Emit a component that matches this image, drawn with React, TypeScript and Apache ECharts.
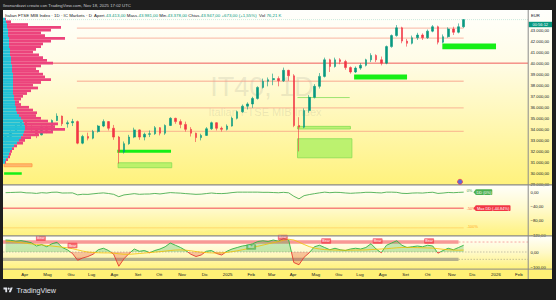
import React, { useEffect, useRef } from 'react';
import * as echarts from 'echarts';

// ---------------- data ----------------
const firstWeek = '2024-03-04';
const weekCount = 102; // incl. empty future weeks up to Feb 2026

const monthStarts = [
  '2024-04-01', '2024-05-02', '2024-06-03', '2024-07-01', '2024-08-01', '2024-09-02', '2024-10-01', '2024-11-01',
  '2024-12-02', '2025-01-02', '2025-02-03', '2025-03-03', '2025-04-01', '2025-05-02', '2025-06-02', '2025-07-01',
  '2025-08-01', '2025-09-01', '2025-10-01', '2025-11-03', '2025-12-01', '2026-01-02', '2026-02-02',
];
const monthLabels = [
  'Apr', 'Mag', 'Giu', 'Lug', 'Ago', 'Set', 'Ott', 'Nov',
  'Dic', '2025', 'Feb', 'Mar', 'Apr', 'Mag', 'Giu', 'Lug',
  'Ago', 'Set', 'Ott', 'Nov', 'Dic', '2026', 'Feb',
];

const firstOpen = 33050;
const weeklyClose = [
  33350, 33800, 34350, 34750, 34050, 33950, 33500, 34250, 33900, 34800,
  35200, 34500, 34600, 34700, 32750, 33350, 33200, 33800, 34300, 34700,
  34100, 33300, 31950, 32700, 33300, 33950, 33300, 33550, 33600, 34150,
  33650, 34350, 35000, 34700, 34450, 34000, 33650, 33250, 33450, 34050,
  34600, 34100, 34000, 34300, 35000, 35600, 36100, 36300, 36800, 37800,
  38350, 38500, 38600, 38400, 39350, 38850, 34350, 34200, 35700, 36900,
  37900, 38800, 40300, 39700, 40300, 40150, 39600, 39200, 39550, 39800,
  40300, 40700, 40300, 40000, 41500, 42500, 43200, 42000, 41800, 42300,
  42550, 42300, 42900, 43300, 41900, 42400, 43100, 42800, 43300, 43947,
];
const weeklyHigh = [
  33500, 33950, 34450, 34800, 34800, 34400, 34000, 34350, 34350, 34900,
  35450, 35250, 34800, 34950, 34800, 33500, 33700, 33950, 34400, 34900,
  34750, 34400, 33400, 32900, 33500, 34150, 34000, 33700, 33900, 34300,
  34200, 34450, 35100, 35050, 34900, 34700, 34200, 33700, 33600, 34200,
  34700, 34650, 34250, 34450, 35150, 35700, 36250, 36450, 36950, 37900,
  38600, 38700, 39050, 38800, 39600, 39400, 39000, 35100, 35900, 37100,
  38100, 39100, 40500, 40400, 40500, 40450, 40300, 39700, 39700, 40000,
  40400, 40900, 40800, 40600, 41600, 42600, 43450, 43300, 42200, 42500,
  42750, 42700, 43050, 43450, 43400, 42600, 43250, 43300, 43600, 43981,
];
const weeklyLow = [
  32900, 33250, 33700, 34250, 33950, 33700, 33200, 33450, 33650, 33850,
  34750, 34300, 34150, 34300, 32650, 32650, 33000, 33100, 33700, 34200,
  33900, 33050, 30900, 31800, 32600, 33200, 33050, 33000, 33300, 33500,
  33450, 33500, 34300, 34500, 34100, 33800, 33350, 32850, 33000, 33400,
  33950, 33900, 33800, 33900, 34250, 34900, 35500, 35800, 35950, 36700,
  37700, 37900, 38000, 37900, 38300, 38400, 34200, 32000, 34100, 35500,
  36800, 37700, 38700, 39200, 39600, 39900, 39400, 39050, 39100, 39400,
  39700, 40100, 40100, 39800, 39900, 41400, 42400, 41800, 41500, 41700,
  42100, 42100, 42200, 42800, 41700, 41800, 42300, 42550, 42700, 43200,
];

const drawdownPct = [
  -1.5, -1, -0.5, 0, -2, -2.3, -3.6, -1.5, -2.5, -0.4,
  0, -2.5, -2.3, -2.1, -7.6, -5.9, -6.3, -4.7, -3.2, -2.1,
  -3.8, -6.1, -12.8, -7.8, -6.1, -4.2, -6.1, -5.4, -5.2, -3.7,
  -5.1, -3.1, -1.3, -2.1, -2.8, -4.1, -5.1, -6.2, -5.6, -4,
  -2.4, -3.8, -4.1, -3.2, -1.3, 0, 0, 0, 0, 0,
  -0.6, -0.5, -1.1, -1.7, -0.6, -1.9, -11.5, -18.8, -9.8, -6.8,
  -4.3, -2, 0, -1.5, -0.5, -0.9, -2.3, -3.3, -2.4, -1.7,
  -0.5, -0.5, -1.5, -2.2, 0, 0, -0.6, -3.3, -3.8, -2.6,
  -2.1, -2.6, -1.2, -0.3, -3.6, -2.5, -0.9, -1.6, -0.7, 0,
];

const oscValues = [
  80, 78, 72, 76, 70, 62, 40, 50, 35, 55,
  65, 30, 15, -10, -55, -40, -30, -15, 15, 25,
  10, -15, -95, -45, -10, 20, 5, 10, -5, 10,
  20, 35, 60, 45, 30, 10, -15, -30, -20, 5,
  10, -10, -20, 5, 20, 30, 40, 45, 55, 70,
  75, 70, 80, 72, 90, 80, -70, -85, -35, -5,
  35, 45, 30, 15, 25, 15, 10, 20, 25, 20,
  30, 55, 20, -5, 45, 60, 75, 45, 30, 35,
  40, 35, 45, 40, -8, 10, 25, 15, 30, 45,
];
const oscSignal = [
  73, 70, 66, 62, 58, 54, 50, 47, 44, 40,
  36, 32, 28, 22, 14, 6, 0, -3, -5, -6,
  -6, -8, -12, -15, -15, -13, -10, -7, -4, -1,
  2, 6, 10, 13, 14, 12, 8, 3, -1, -4,
  -6, -7, -6, -3, 2, 8, 15, 22, 30, 38,
  46, 54, 62, 70, 78, 85, 80, 66, 50, 36,
  26, 20, 16, 14, 13, 12, 12, 12, 13, 13,
  14, 16, 18, 20, 22, 25, 28, 30, 31, 30,
  29, 28, 27, 26, 22, 18, 15, 13, 12, 13,
];

const profilePrices = [
  44000, 43750, 43500, 43250, 43000, 42750, 42500, 42250, 42000, 41750,
  41500, 41250, 41000, 40750, 40500, 40250, 40000, 39750, 39500, 39250,
  39000, 38750, 38500, 38250, 38000, 37750, 37500, 37250, 37000, 36750,
  36500, 36250, 36000, 35750, 35500, 35250, 35000, 34750, 34500, 34250,
  34000, 33750, 33500, 33250, 33000, 32750, 32500, 32250, 32000, 31750,
  31500, 31250, 31000,
];
const profileUp = [
  2, 3, 4, 4, 5, 5, 5, 6, 6, 6, 6, 7, 7, 7, 8, 8, 8, 9, 9, 9,
  10, 10, 10, 10, 10, 10, 10, 10, 11, 11, 12, 12, 13, 13, 14, 16, 18, 20, 21, 22,
  22, 21, 20, 18, 16, 14, 11, 9, 7, 6, 5, 3, 2,
];
const profileDown = [
  1, 5, 21, 54, 43, 33, 37, 56, 42, 34, 32, 26, 23, 29, 32, 36, 42, 29, 24, 27,
  30, 32, 38, 28, 20, 25, 18, 14, 9, 7, 4, 6, 13, 17, 20, 17, 20, 25, 34, 30,
  40, 29, 16, 10, 6, 6, 3, 2, 2, 2, 2, 2, 1,
];

const pivotLevels = [43180, 42270, 38360, 35940, 33820];
const pivotFrom = '2024-06-11';
const keyLevel = 40000;
const lastPrice = 43947;

const zoneFrom = ['2024-03-04', '2024-03-04', '2024-08-05', '2024-08-06', '2025-04-07', '2025-04-07', '2025-04-07', '2025-06-23', '2025-10-21'];
const zoneTo = ['2024-03-28', '2024-04-11', '2024-10-17', '2024-10-18', '2025-06-17', '2025-06-18', '2025-06-20', '2025-09-03', '2026-01-02'];
const zoneLow = [29880, 30610, 31880, 30520, 36880, 34030, 31420, 38520, 41250];
const zoneHigh = [30120, 30880, 32150, 30970, 36880, 34270, 33150, 38970, 41790];
const zoneKind = [0, 2, 0, 1, 3, 1, 1, 0, 0];

const maxDrawdown = -44.84;
const ddLevels = [0, -50, -100];
const ddLevelTexts = ['0%', '-50%', '-100%'];
const ddTagValues = [0, maxDrawdown];
const ddTagTexts = ['DD (0%)', 'Max DD (-44.84%)'];

const overboughtBand = [55, 78];
const oversoldBand = [-60, -38];
const bearDates = ['2024-04-23', '2024-06-05', '2025-03-18', '2025-05-16', '2025-07-25', '2025-10-03'];
const bearValues = [91, 43, 97, 73, 73, 73];
const bullDates = ['2025-02-03'];
const bullValues = [33];

// ---------------- helpers ----------------
const DAY = 86400000;
const START = Date.parse(firstWeek);
const dateToIdx = (s: string) => ((Date.parse(s) - START) / DAY - 2) / 7;

const weekDates: string[] = [];
for (let i = 0; i < weekCount; i++) weekDates.push(new Date(START + i * 7 * DAY).toISOString().slice(0, 10));
const monthTickIdx = monthStarts.map(dateToIdx);

const itNum = (v: number) => {
  const neg = v < 0;
  const [ip, dp] = Math.abs(v).toFixed(2).split('.');
  return (neg ? '\u2212' : '') + ip.replace(/\B(?=(\d{3})+(?!\d))/g, '.') + ',' + dp;
};

const FONT = "'Liberation Sans', Arial, sans-serif";
const TXT = '#131722';
const UP = '#089981';
const DOWN = '#f23645';
const L = 3;
const R = 28;
const lastIdx = weeklyClose.length - 1;
const XMIN = -0.5;
const XMAX = weekCount - 0.5;

const candleData = weeklyClose.map((c, i) => [i === 0 ? firstOpen : weeklyClose[i - 1], c, weeklyLow[i], weeklyHigh[i]]);
const profileData = profilePrices.map((p, i) => [p, profileUp[i], profileDown[i]]);
const zoneData = zoneFrom.map((f, i) => [dateToIdx(f), dateToIdx(zoneTo[i]), zoneLow[i], zoneHigh[i], zoneKind[i]]);
const oscData = oscValues.map((v, i) => [i, v]);
const signalData = oscSignal.map((v, i) => [i, v]);

const mainLines: number[][] = [
  ...pivotLevels.map((p) => [dateToIdx(pivotFrom), lastIdx, p, 0]),
  [XMIN, XMAX, keyLevel, 1],
  [XMIN, XMAX, lastPrice, 2],
];
const ddLines: number[][] = [
  [XMIN, lastIdx, maxDrawdown, 3],
  [XMIN, lastIdx, ddLevels[2], 4],
];
const oscLines: number[][] = [
  [lastIdx - 1, XMAX, (overboughtBand[0] + overboughtBand[1]) / 2, 5],
  [XMIN, XMAX, 0, 6],
  [lastIdx - 1, XMAX, (oversoldBand[0] + oversoldBand[1]) / 2, 6],
];
const bandData = [
  [XMIN, lastIdx - 1, overboughtBand[0], overboughtBand[1], 0],
  [XMIN, lastIdx - 1, oversoldBand[0], oversoldBand[1], 1],
];
const signalTags = [
  ...bearDates.map((d, i) => [dateToIdx(d), bearValues[i], 0]),
  ...bullDates.map((d, i) => [dateToIdx(d), bullValues[i], 1]),
];

// ---------------- styles & renderers ----------------
const lineStyles = [
  { stroke: 'rgba(246,150,128,0.55)', lw: 1.3, dash: null as any },
  { stroke: '#ee4a4a', lw: 0.9, dash: null },
  { stroke: 'rgba(8,153,129,0.35)', lw: 0.6, dash: [1, 1] },
  { stroke: '#f23645', lw: 0.9, dash: null },
  { stroke: 'rgba(255,167,38,0.45)', lw: 0.8, dash: null },
  { stroke: 'rgba(242,54,69,0.6)', lw: 0.7, dash: [2, 2] },
  { stroke: 'rgba(120,120,120,0.6)', lw: 0.7, dash: [1.5, 1.5] },
];
const renderHLine = (_p: any, api: any) => {
  const a = api.coord([api.value(0), api.value(2)]);
  const b = api.coord([api.value(1), api.value(2)]);
  const s = lineStyles[api.value(3)];
  return {
    type: 'line',
    shape: { x1: a[0], y1: a[1], x2: b[0], y2: b[1] },
    style: { stroke: s.stroke, lineWidth: s.lw, lineDash: s.dash || undefined },
  };
};

const zoneStyles = [
  { fill: '#16ef16', stroke: 'none', lw: 0 },
  { fill: 'rgba(165,240,95,0.75)', stroke: '#86dd55', lw: 0.8 },
  { fill: 'rgba(255,172,105,0.85)', stroke: '#ff9b45', lw: 0.8 },
  { fill: 'none', stroke: '#9be36f', lw: 1 },
];
const bandStyles = [
  { fill: 'rgba(242,70,80,0.55)', stroke: 'none', lw: 0 },
  { fill: 'rgba(120,120,120,0.55)', stroke: 'none', lw: 0 },
];
const makeRectRenderer = (styles: any[]) => (_p: any, api: any) => {
  const a = api.coord([api.value(0), api.value(3)]);
  const b = api.coord([api.value(1), api.value(2)]);
  const s = styles[api.value(4)];
  if (api.value(2) === api.value(3)) {
    return { type: 'line', shape: { x1: a[0], y1: a[1], x2: b[0], y2: a[1] }, style: { stroke: s.stroke, lineWidth: s.lw } };
  }
  return {
    type: 'rect',
    shape: { x: a[0], y: a[1], width: b[0] - a[0], height: b[1] - a[1] },
    style: { fill: s.fill, stroke: s.stroke, lineWidth: s.lw },
  };
};

const renderProfile = (_p: any, api: any) => {
  const price = api.value(0);
  const up = api.value(1);
  const dn = api.value(2);
  const a = api.coord([0, price + 125]);
  const b = api.coord([up, price - 125]);
  const c = api.coord([up + dn, price - 125]);
  return {
    type: 'group',
    children: [
      { type: 'rect', shape: { x: a[0], y: a[1], width: b[0] - a[0], height: b[1] - a[1] }, style: { fill: '#22c1d6' } },
      { type: 'rect', shape: { x: b[0], y: a[1], width: c[0] - b[0], height: b[1] - a[1] }, style: { fill: '#ec437c' } },
    ],
  };
};

const tag = (x: number, y: number, text: string, color: string, fs: number, arrow: boolean) => {
  const w = text.length * fs * 0.52 + 2.4;
  const h = fs + 1.8;
  const ch: any[] = [
    { type: 'rect', shape: { x, y: y - h / 2, width: w, height: h, r: 0.8 }, style: { fill: color } },
    { type: 'text', x: x + w / 2, y, style: { text, fill: '#ffffff', fontSize: fs, fontFamily: FONT, textAlign: 'center', textVerticalAlign: 'middle' } },
  ];
  if (arrow) ch.push({ type: 'polygon', shape: { points: [[x - 2.2, y], [x + 0.3, y - h / 2], [x + 0.3, y + h / 2]] }, style: { fill: color } });
  return ch;
};

const renderDDTags = (_p: any, api: any) => {
  const k = api.value(2);
  const p = api.coord([api.value(0), api.value(1)]);
  return { type: 'group', children: tag(p[0] + 12, p[1], ddTagTexts[k], k === 0 ? '#4caf50' : '#f23645', 3.9, true) };
};
const ddLevelColors = ['#43a047', '#ff6d3a', '#ffa726'];
const renderDDLevelTexts = (_p: any, api: any) => {
  const k = api.value(2);
  const p = api.coord([api.value(0), api.value(1)]);
  return {
    type: 'text', x: p[0] + 3, y: p[1] + 0.3,
    style: { text: ddLevelTexts[k], fill: ddLevelColors[k], fontSize: 3.9, fontFamily: FONT, textAlign: 'left', textVerticalAlign: 'bottom' },
  };
};
const renderSignalTags = (_p: any, api: any) => {
  const k = api.value(2);
  const p = api.coord([api.value(0), api.value(1)]);
  const text = k === 0 ? 'Bear' : 'Bull';
  const fs = 3.6;
  const w = text.length * fs * 0.52 + 2.4;
  return { type: 'group', children: tag(p[0] - w / 2, p[1], text, k === 0 ? 'rgba(242,54,69,0.72)' : 'rgba(76,175,80,0.72)', fs, false) };
};

// ---------------- option ----------------
const hiddenCat = (g: number) => ({ type: 'category', gridIndex: g, data: weekDates, boundaryGap: true, show: false });
const hiddenVal = (g: number, min: number, max: number) => ({ type: 'value', gridIndex: g, min, max, show: false });
const yBase = (g: number, min: number, max: number, interval: number, fmt: (v: number) => string) => ({
  type: 'value', gridIndex: g, position: 'right', min, max, interval,
  axisLine: { show: false }, axisTick: { show: false }, splitLine: { show: false },
  axisLabel: { formatter: fmt, showMaxLabel: false, fontSize: 4.2, color: TXT, margin: 2.5, fontFamily: FONT },
});

const header =
  '{a|Italian FTSE MIB Index · 1D · IC Markets · D  Apert.}{g|43.413,00}{a| Mass.}{g|43.981,00}{a| Min.}{g|43.378,00}{a| Chius.}{g|43.947,00 +673,00 (+1,55%)}{a|  Vol }{g|76,21 K}';
const HFS = 4.4;

const option: any = {
  animation: false,
  backgroundColor: 'transparent',
  grid: [
    { left: L, right: R, top: 10, height: 174.5 },
    { left: L, right: R, top: 185, height: 50 },
    { left: L, right: R, top: 237, height: 30 },
  ],
  xAxis: [
    hiddenCat(0),
    hiddenVal(0, XMIN, XMAX),
    hiddenVal(0, 0, 525),
    hiddenCat(1),
    hiddenVal(1, XMIN, XMAX),
    {
      type: 'value', gridIndex: 2, min: XMIN, max: XMAX,
      axisLine: { show: false }, axisTick: { show: false }, splitLine: { show: false },
      axisLabel: {
        customValues: monthTickIdx,
        formatter: (v: number) => {
          let best = 0;
          monthTickIdx.forEach((t, i) => { if (Math.abs(t - v) < Math.abs(monthTickIdx[best] - v)) best = i; });
          return monthLabels[best];
        },
        fontSize: 4.4, color: TXT, margin: 5, fontFamily: FONT,
      },
    },
  ],
  yAxis: [
    yBase(0, 29000, 44818, 1000, (v: number) => (v >= 44000 ? '' : itNum(v))),
    yBase(1, -120, 20, 40, (v: number) => itNum(v)),
    yBase(2, -100, 100, 100, (v: number) => itNum(v)),
  ],
  visualMap: [
    {
      type: 'piecewise', show: false, seriesIndex: 10, dimension: 1,
      pieces: [{ gt: 0, lte: 1000, color: '#2fb344' }, { gt: -1000, lte: 0, color: '#e5392f' }],
      outOfRange: { color: '#2fb344' },
    },
  ],
  series: [
    { type: 'custom', xAxisIndex: 1, yAxisIndex: 0, data: mainLines, encode: { x: [0, 1], y: 2 }, renderItem: renderHLine, z: 1, silent: true },
    { type: 'custom', xAxisIndex: 1, yAxisIndex: 0, data: zoneData, encode: { x: [0, 1], y: [2, 3] }, renderItem: makeRectRenderer(zoneStyles), z: 1, silent: true },
    {
      type: 'candlestick', xAxisIndex: 0, yAxisIndex: 0, data: candleData, barWidth: 2.1, z: 2,
      itemStyle: { color: UP, color0: DOWN, borderColor: UP, borderColor0: DOWN, borderWidth: 0.6 },
    },
    { type: 'custom', xAxisIndex: 2, yAxisIndex: 0, data: profileData, encode: { x: [1, 2], y: 0 }, renderItem: renderProfile, z: 3, silent: true },
    // drawdown pane
    { type: 'custom', xAxisIndex: 4, yAxisIndex: 1, data: ddLines, encode: { x: [0, 1], y: 2 }, renderItem: renderHLine, z: 1, silent: true },
    { type: 'line', xAxisIndex: 3, yAxisIndex: 1, data: drawdownPct, symbol: 'none', lineStyle: { color: '#4caf50', width: 0.9 }, z: 2 },
    { type: 'custom', xAxisIndex: 4, yAxisIndex: 1, data: ddLevels.map((v, i) => [lastIdx, v, i]), renderItem: renderDDLevelTexts, z: 3, silent: true },
    { type: 'custom', xAxisIndex: 4, yAxisIndex: 1, data: ddTagValues.map((v, i) => [lastIdx, v, i]), renderItem: renderDDTags, z: 4, silent: true },
    // oscillator pane (all on the value x axis of grid 2)
    { type: 'custom', xAxisIndex: 5, yAxisIndex: 2, data: bandData, encode: { x: [0, 1], y: [2, 3] }, renderItem: makeRectRenderer(bandStyles), z: 1, silent: true },
    { type: 'custom', xAxisIndex: 5, yAxisIndex: 2, data: oscLines, encode: { x: [0, 1], y: 2 }, renderItem: renderHLine, z: 1, silent: true },
    { type: 'line', xAxisIndex: 5, yAxisIndex: 2, data: oscData, symbol: 'none', lineStyle: { width: 0.9 }, areaStyle: { origin: 0, opacity: 0.28 }, z: 2 },
    { type: 'line', xAxisIndex: 5, yAxisIndex: 2, data: signalData, symbol: 'none', lineStyle: { color: '#f2c200', width: 0.8 }, z: 3 },
    { type: 'custom', xAxisIndex: 5, yAxisIndex: 2, data: signalTags, renderItem: renderSignalTags, z: 4, silent: true },
  ],
  graphic: {
    elements: [
      { type: 'text', x: 262, y: 87, z: 0, silent: true, style: { text: 'IT40, 1D', fontSize: 27, fill: 'rgba(110,110,110,0.14)', fontFamily: FONT, textAlign: 'center', textVerticalAlign: 'middle' } },
      { type: 'text', x: 265, y: 111.5, z: 0, silent: true, style: { text: 'Italian FTSE MIB Index', fontSize: 11, fill: 'rgba(110,110,110,0.14)', fontFamily: FONT, textAlign: 'center', textVerticalAlign: 'middle' } },
      { type: 'text', x: 3, y: 5, z: 20, style: { text: 'lleonardozzi creato con TradingView.com, Nov 18, 2025 17:02 UTC', fontSize: 4.3, fill: '#c9cbd1', fontFamily: FONT, textVerticalAlign: 'middle' } },
      {
        type: 'text', x: 5, y: 15, z: 20,
        style: {
          text: header, fontSize: HFS, fontFamily: FONT, textVerticalAlign: 'middle',
          rich: { a: { fill: TXT, fontSize: HFS, fontFamily: FONT }, g: { fill: UP, fontSize: HFS, fontFamily: FONT } },
        },
      },
      { type: 'text', x: 531, y: 15, z: 20, style: { text: 'EUR', fontSize: 4.2, fill: TXT, fontFamily: FONT, textVerticalAlign: 'middle' } },
      { type: 'rect', z: 20, shape: { x: 528.6, y: 21.8, width: 23.4, height: 5.4 }, style: { fill: UP } },
      { type: 'text', x: 540.3, y: 24.6, z: 21, style: { text: '00:56:12', fontSize: 4, fill: '#ffffff', fontFamily: FONT, textAlign: 'center', textVerticalAlign: 'middle' } },
      { type: 'line', z: 20, shape: { x1: 3, y1: 184.9, x2: 552, y2: 184.9 }, style: { stroke: '#8a8a8a', lineWidth: 1.4 } },
      { type: 'line', z: 20, shape: { x1: 3, y1: 235.9, x2: 552, y2: 235.9 }, style: { stroke: '#8a8a8a', lineWidth: 1.4 } },
      { type: 'line', z: 20, shape: { x1: 3, y1: 269.1, x2: 552, y2: 269.1 }, style: { stroke: '#8a8a8a', lineWidth: 1 } },
      { type: 'line', z: 20, shape: { x1: 528.2, y1: 10, x2: 528.2, y2: 279 }, style: { stroke: '#8a8a8a', lineWidth: 1 } },
      { type: 'circle', z: 21, shape: { cx: 460, cy: 181.8, r: 2.5 }, style: { fill: '#5b6bd6', stroke: '#e8485a', lineWidth: 0.9 } },
      {
        type: 'group', x: 3.5, y: 287.6, scaleX: 0.26, scaleY: 0.26, z: 20,
        children: [
          { type: 'polygon', shape: { points: [[0, 0], [14, 0], [14, 18], [7, 18], [7, 7], [0, 7]] }, style: { fill: '#e0e3eb' } },
          { type: 'circle', shape: { cx: 20, cy: 4, r: 4 }, style: { fill: '#e0e3eb' } },
          { type: 'polygon', shape: { points: [[27.5, 0], [35.5, 0], [28, 18], [20, 18]] }, style: { fill: '#e0e3eb' } },
        ],
      },
      { type: 'text', x: 16.5, y: 290.4, z: 20, style: { text: 'TradingView', fontSize: 7.2, fontWeight: 500, fill: '#e0e3eb', fontFamily: FONT, textVerticalAlign: 'middle' } },
    ],
  },
};

const BG = [
  'linear-gradient(#fffffc, #fffce6 30%, #fff7b2 65%, #fff27c) 3px 10px / 549px 175px no-repeat',
  'linear-gradient(#fffffb, #fff9c8 50%, #fff27c) 3px 185px / 549px 51px no-repeat',
  'linear-gradient(#fffffb, #fff9c8 50%, #fff27c) 3px 236px / 549px 33px no-repeat',
  'linear-gradient(#fff176, #fff176) 3px 269px / 549px 10px no-repeat',
  '#1e1e1e',
].join(', ');

export default function App() {
  const ref = useRef<HTMLDivElement>(null);
  useEffect(() => {
    document.body.style.margin = '0';
    const chart = echarts.init(ref.current as HTMLDivElement, null, { renderer: 'svg', width: 556, height: 300 });
    chart.setOption(option);
    return () => chart.dispose();
  }, []);
  return <div ref={ref} style={{ position: 'absolute', left: 0, top: 0, width: 556, height: 300, background: BG }} />;
}
